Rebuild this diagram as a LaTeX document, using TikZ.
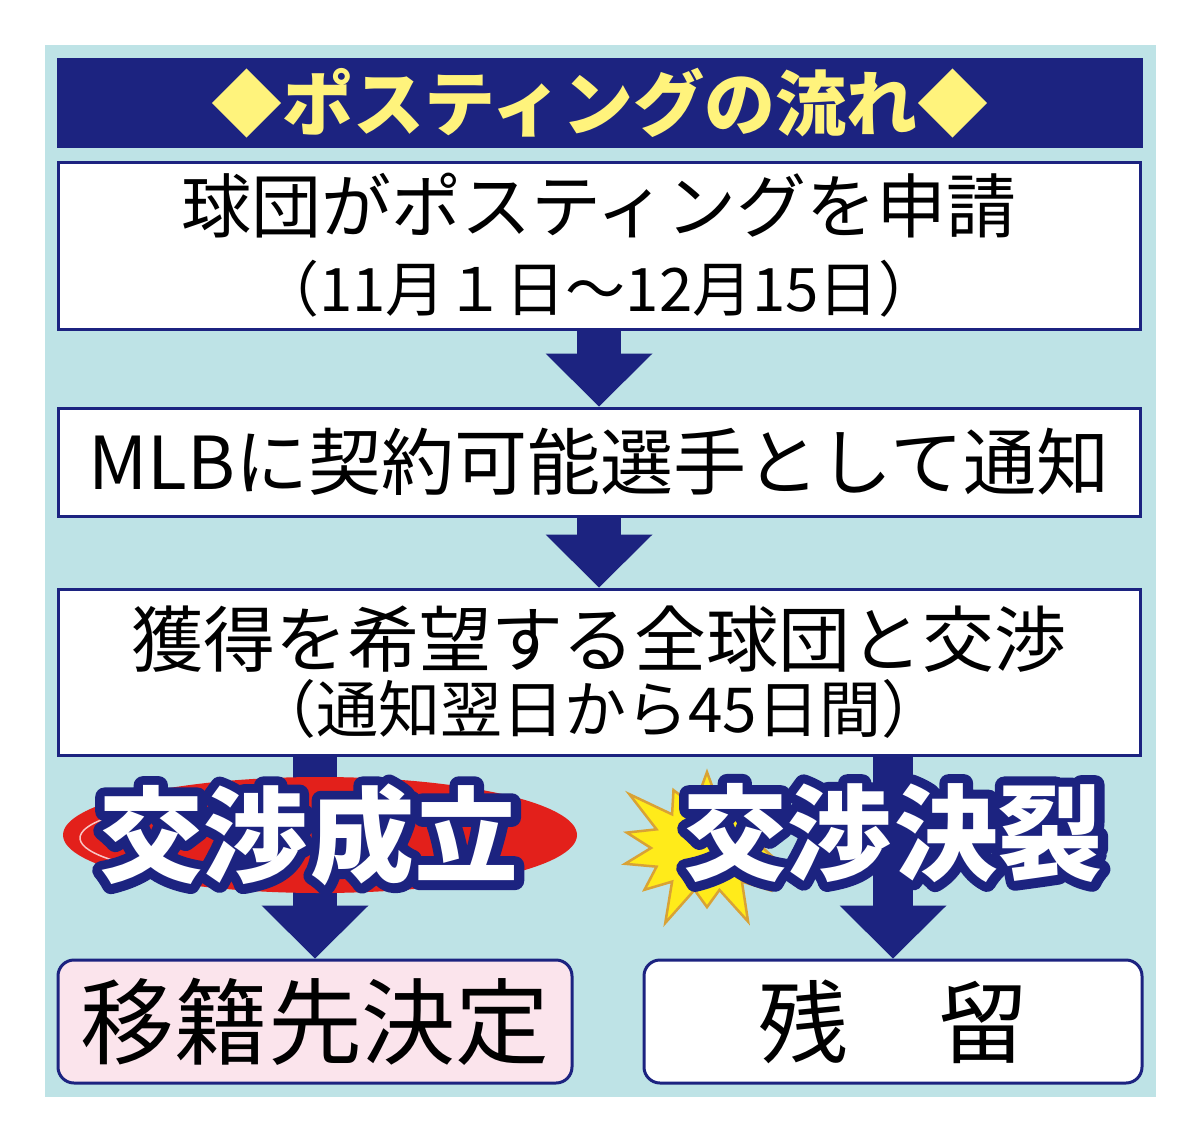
\documentclass[tikz,border=0pt]{standalone}
\usepackage{fontspec}
\setmainfont{Noto Sans CJK JP}
\newfontfamily\outlinefont[FakeBold=18]{Noto Sans CJK JP}
\usetikzlibrary{arrows.meta,shapes.symbols}
\definecolor{navy}{HTML}{1C2380}
\definecolor{panel}{HTML}{BEE3E6}
\definecolor{titleyellow}{HTML}{FFF37C}
\definecolor{pinkbox}{HTML}{FBE4EC}
\definecolor{swoosh}{HTML}{E3201B}
\definecolor{burstyellow}{HTML}{FFEB1A}
\definecolor{burstedge}{HTML}{D9A235}
\newcommand\jpsize[1]{\fontsize{#1}{#1}\selectfont}
\newcommand\roundjoin{\special{pdf:code 1 j 1 J}}
\tikzset{
  box/.style={draw=navy, line width=3pt, fill=white, inner sep=0pt, align=center, minimum width=1082pt},
  endbox/.style={draw=navy, line width=3pt, rounded corners=16pt, inner sep=0pt, minimum height=123pt},
  flow/.style={draw=navy, line width=44pt, -{Triangle[width=107pt,length=53pt,line width=0pt]}},
  dealtext/.style={text=white, font=\bfseries\jpsize{104}, inner sep=0pt},
  dealshade/.style={text=navy, font=\outlinefont\bfseries\jpsize{104}, inner sep=0pt}
}
\begin{document}
\begin{tikzpicture}[x=1pt,y=-1pt]
        \useasboundingbox (0,0) rectangle (1200,1143);
        \fill[panel] (45,45) rectangle (1156,1097);
        \node[fill=navy, minimum width=1086pt, minimum height=90pt, inner sep=0pt, text=titleyellow, font=\bfseries\jpsize{71}] (title) at (600,103) {◆ポスティングの流れ◆};
        \node[box, minimum height=167pt, font=\jpsize{70}] (apply) at (599,245.5) {球団がポスティングを申請\\[9pt]{\jpsize{60}（11月１日～12月15日）}};
        \node[box, minimum height=108pt, font=\jpsize{73}] (notify) at (599,462) {MLBに契約可能選手として通知};
        \node[box, minimum height=166pt, font=\jpsize{72}] (talks) at (599,672) {獲得を希望する全球団と交渉\\[-6pt]{\jpsize{62}（通知翌日から45日間）}};
        \node[endbox, fill=pinkbox, minimum width=514pt, font=\jpsize{94}] (move) at (315,1021.5) {移籍先決定};
        \node[endbox, fill=white, minimum width=498pt, font=\jpsize{90}] (stay) at (893,1021.5) {残　留};
        \draw[flow] (apply) -- (notify);
        \draw[flow] (notify) -- (talks);
        \draw[flow] (talks.south -| move.north) -- (move.north);
        \draw[flow, line width=40pt] (talks.south -| stay.north) -- (stay.north);
        % swoosh and burst behind the results
        \fill[swoosh] (320,835) ellipse [x radius=257, y radius=58];
        \draw[white!75!swoosh, line width=1.5pt] ([shift={(130:240 and 44)}]320,838) arc [start angle=130, end angle=230, x radius=240, y radius=44];
        \node[starburst, starburst points=14, starburst point height=46pt, fill=burstyellow, draw=burstedge, line width=2.5pt, minimum width=204pt, minimum height=178pt, inner sep=0pt] (burst) at (707,848) {};
        \node[dealshade] (agreedshade) at (309,835) {\roundjoin 交渉\hspace{4pt}成立};
        \node[dealtext] (agreed) at (agreedshade) {交渉\hspace{4pt}成立};
        \node[dealshade] (brokenshade) at (893,833) {\roundjoin 交渉\hspace{4pt}決裂};
        \node[dealtext] (broken) at (brokenshade) {交渉\hspace{4pt}決裂};
\end{tikzpicture}
\end{document}
